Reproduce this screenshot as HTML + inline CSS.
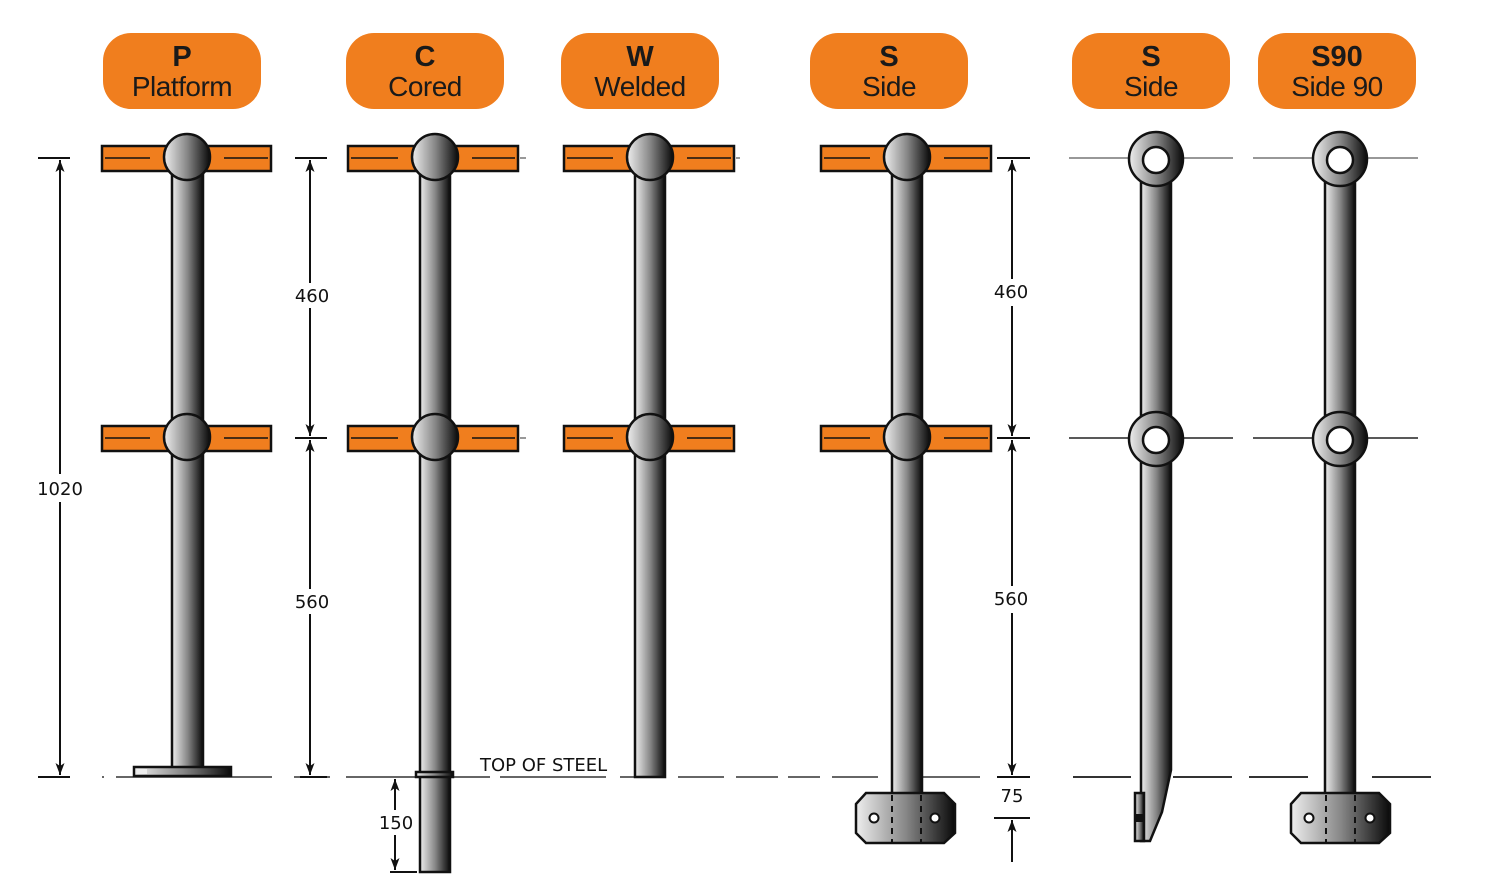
<!DOCTYPE html>
<html><head><meta charset="utf-8"><style>
html,body{margin:0;padding:0;background:#fff;width:1490px;height:886px;overflow:hidden}
svg{display:block}
.bt{font-family:"Liberation Sans Narrow","Liberation Sans",sans-serif;font-weight:bold;font-size:29px;fill:#1a1a1a;text-anchor:middle}
.bn{font-family:"Liberation Sans Narrow","Liberation Sans",sans-serif;font-size:28px;fill:#1a1a1a;text-anchor:middle;letter-spacing:-0.5px}
.dl{font-family:"DejaVu Sans","Liberation Sans",sans-serif;font-size:18px;fill:#111;text-anchor:middle}
</style></head><body>
<svg width="1490" height="886" viewBox="0 0 1490 886" xmlns="http://www.w3.org/2000/svg">
<defs>
<linearGradient id="g" x1="0" x2="1" y1="0" y2="0"><stop offset="0" stop-color="#eee"/><stop offset="0.5" stop-color="#888"/><stop offset="1" stop-color="#0a0a0a"/></linearGradient>
<marker id="a" markerUnits="userSpaceOnUse" markerWidth="12" markerHeight="10" refX="12" refY="5" orient="auto-start-reverse" viewBox="0 0 12 10"><path d="M0,0.5 L12,5 L0,9.5 L3,5 Z" fill="#111"/></marker>
</defs>

<!-- badges -->
<g fill="#F07E1E">
<rect x="103" y="33" width="158" height="76" rx="28"/>
<rect x="346" y="33" width="158" height="76" rx="28"/>
<rect x="561" y="33" width="158" height="76" rx="28"/>
<rect x="810" y="33" width="158" height="76" rx="28"/>
<rect x="1072" y="33" width="158" height="76" rx="28"/>
<rect x="1258" y="33" width="158" height="76" rx="28"/>
</g>
<text class="bt" x="182" y="66">P</text><text class="bn" x="182" y="96">Platform</text>
<text class="bt" x="425" y="66">C</text><text class="bn" x="425" y="96">Cored</text>
<text class="bt" x="640" y="66">W</text><text class="bn" x="640" y="96">Welded</text>
<text class="bt" x="889" y="66">S</text><text class="bn" x="889" y="96">Side</text>
<text class="bt" x="1151" y="66">S</text><text class="bn" x="1151" y="96">Side</text>
<text class="bt" x="1337" y="66">S90</text><text class="bn" x="1337" y="96">Side 90</text>

<!-- ground line -->
<g stroke="#333" stroke-width="1.5">
<line x1="102" y1="777" x2="104" y2="777"/>
<line x1="116" y1="777" x2="272" y2="777"/>
<line x1="294" y1="777" x2="330" y2="777"/>
<line x1="346" y1="777" x2="490" y2="777"/>
<line x1="500" y1="777" x2="606" y2="777"/>
<line x1="620" y1="777" x2="665" y2="777"/>
<line x1="678" y1="777" x2="724" y2="777"/>
<line x1="736" y1="777" x2="778" y2="777"/>
<line x1="788" y1="777" x2="820" y2="777"/>
<line x1="832" y1="777" x2="878" y2="777"/>
<line x1="922" y1="777" x2="980" y2="777"/>
<line x1="1073" y1="777" x2="1131" y2="777" stroke-width="2"/>
<line x1="1173" y1="777" x2="1232" y2="777" stroke-width="2"/>
<line x1="1249" y1="777" x2="1308" y2="777" stroke-width="2"/>
<line x1="1372" y1="777" x2="1431" y2="777" stroke-width="2"/>
</g>
<text x="480" y="771" font-family="DejaVu Sans,Liberation Sans,sans-serif" font-size="18" fill="#111">TOP OF STEEL</text>

<!-- ring level lines -->
<g stroke="#777" stroke-width="1.5">
<line x1="1069" y1="158" x2="1233" y2="158"/><line x1="1253" y1="158" x2="1418" y2="158"/>
<line x1="1069" y1="438" x2="1233" y2="438" stroke="#222"/><line x1="1253" y1="438" x2="1418" y2="438" stroke="#222"/>
<line x1="520" y1="158" x2="526" y2="158"/><line x1="736" y1="158" x2="740" y2="158"/>
<line x1="520" y1="438" x2="526" y2="438"/>
</g>

<!-- posts -->
<g stroke="#111" stroke-width="2.5" fill="url(#g)">
<rect x="172" y="170" width="31" height="600"/>
<rect x="134" y="767" width="97" height="9" />
<rect x="420" y="170" width="30" height="702"/>
<rect x="416" y="772" width="37" height="5"/>
<rect x="635" y="170" width="30" height="607"/>
<rect x="892" y="170" width="30" height="625"/>
<path d="M866,793 H944 L955,804 V833 L944,843 H866 L856,833 V804 Z"/>
<path d="M1141,180 H1171 V770 L1162,812 L1150,841 H1141 Z"/>
<rect x="1135" y="793" width="9" height="48"/>
<rect x="1325" y="180" width="30" height="615"/>
<path d="M1301,793 H1379 L1390,804 V833 L1379,843 H1301 L1291,833 V804 Z"/>
</g>
<rect x="137" y="769" width="10" height="5" fill="#eee"/>
<rect x="1135" y="814" width="9" height="8" fill="#111"/>
<g fill="#fff" stroke="#111" stroke-width="2">
<circle cx="874" cy="818" r="4.5"/><circle cx="935" cy="818" r="4.5"/>
<circle cx="1309" cy="818" r="4.5"/><circle cx="1370" cy="818" r="4.5"/>
</g>
<g stroke="#111" stroke-width="2" stroke-dasharray="6,5">
<line x1="892" y1="795" x2="892" y2="843"/><line x1="921" y1="795" x2="921" y2="843"/>
<line x1="1326" y1="795" x2="1326" y2="843"/><line x1="1355" y1="795" x2="1355" y2="843"/>
</g>

<!-- rails + balls -->
<g stroke="#111" stroke-width="2.5">
<g fill="#F07E1E">
<rect x="102" y="146" width="169" height="25"/><rect x="102" y="426" width="169" height="25"/>
<rect x="348" y="146" width="170" height="25"/><rect x="348" y="426" width="170" height="25"/>
<rect x="564" y="146" width="170" height="25"/><rect x="564" y="426" width="170" height="25"/>
<rect x="821" y="146" width="170" height="25"/><rect x="821" y="426" width="170" height="25"/>
</g>
<g stroke-width="1.5">
<line x1="105" y1="158" x2="268" y2="158"/><line x1="105" y1="438" x2="268" y2="438"/>
<line x1="351" y1="158" x2="515" y2="158"/><line x1="351" y1="438" x2="515" y2="438"/>
<line x1="567" y1="158" x2="731" y2="158"/><line x1="567" y1="438" x2="731" y2="438"/>
<line x1="824" y1="158" x2="988" y2="158"/><line x1="824" y1="438" x2="988" y2="438"/>
</g>
<g fill="#F07E1E" stroke="none">
<rect x="150" y="148" width="74" height="21"/><rect x="150" y="428" width="74" height="21"/>
<rect x="398" y="148" width="74" height="21"/><rect x="398" y="428" width="74" height="21"/>
<rect x="613" y="148" width="74" height="21"/><rect x="613" y="428" width="74" height="21"/>
<rect x="870" y="148" width="74" height="21"/><rect x="870" y="428" width="74" height="21"/>
</g>
<g fill="url(#g)">
<circle cx="187" cy="157" r="23"/><circle cx="187" cy="437" r="23"/>
<circle cx="435" cy="157" r="23"/><circle cx="435" cy="437" r="23"/>
<circle cx="650" cy="157" r="23"/><circle cx="650" cy="437" r="23"/>
<circle cx="907" cy="157" r="23"/><circle cx="907" cy="437" r="23"/>
<circle cx="1156" cy="159" r="27"/><circle cx="1156" cy="439" r="27"/>
<circle cx="1340" cy="159" r="27"/><circle cx="1340" cy="439" r="27"/>
</g>
<g fill="#fff">
<circle cx="1156" cy="160" r="13"/><circle cx="1156" cy="440" r="13"/>
<circle cx="1340" cy="160" r="13"/><circle cx="1340" cy="440" r="13"/>
</g>
</g>

<!-- dimensions -->
<g stroke="#111" stroke-width="2" fill="none">
<line x1="38" y1="158" x2="70" y2="158"/><line x1="38" y1="777" x2="70" y2="777"/>
<line x1="60" y1="160" x2="60" y2="474" marker-start="url(#a)"/><line x1="60" y1="502" x2="60" y2="775" marker-end="url(#a)"/>
<line x1="295" y1="158" x2="327" y2="158"/><line x1="295" y1="438" x2="327" y2="438"/><line x1="300" y1="777" x2="327" y2="777"/>
<line x1="310" y1="160" x2="310" y2="283" marker-start="url(#a)"/><line x1="310" y1="308" x2="310" y2="436" marker-end="url(#a)"/>
<line x1="310" y1="440" x2="310" y2="589" marker-start="url(#a)"/><line x1="310" y1="614" x2="310" y2="775" marker-end="url(#a)"/>
<line x1="395" y1="779" x2="395" y2="810" marker-start="url(#a)"/><line x1="395" y1="835" x2="395" y2="870" marker-end="url(#a)"/>
<line x1="390" y1="872" x2="417" y2="872"/>
<line x1="997" y1="158" x2="1030" y2="158"/><line x1="997" y1="438" x2="1030" y2="438"/><line x1="997" y1="777" x2="1030" y2="777"/><line x1="994" y1="818" x2="1030" y2="818"/>
<line x1="1012" y1="160" x2="1012" y2="279" marker-start="url(#a)"/><line x1="1012" y1="306" x2="1012" y2="436" marker-end="url(#a)"/>
<line x1="1012" y1="440" x2="1012" y2="586" marker-start="url(#a)"/><line x1="1012" y1="613" x2="1012" y2="775" marker-end="url(#a)"/>
<line x1="1012" y1="862" x2="1012" y2="820" marker-end="url(#a)"/>
</g>
<text class="dl" x="60" y="495">1020</text>
<text class="dl" x="312" y="302">460</text>
<text class="dl" x="312" y="608">560</text>
<text class="dl" x="396" y="829">150</text>
<text class="dl" x="1011" y="298">460</text>
<text class="dl" x="1011" y="605">560</text>
<text class="dl" x="1012" y="802">75</text>
</svg>
</body></html>
